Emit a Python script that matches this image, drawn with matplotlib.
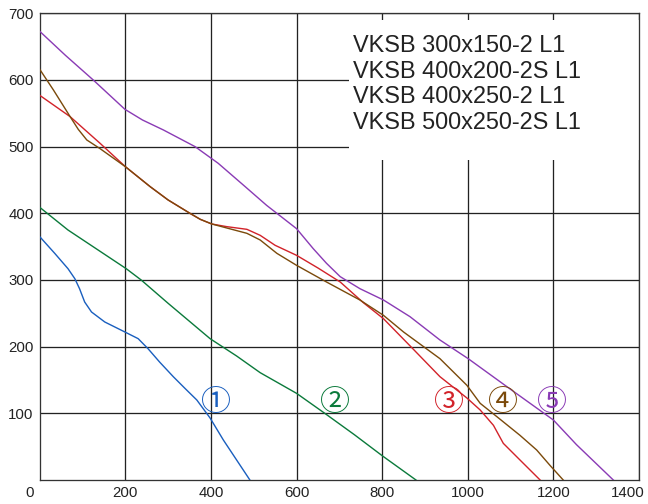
import matplotlib
matplotlib.use("Agg")
import matplotlib.pyplot as plt
from matplotlib.patches import Rectangle

plt.rcParams['font.family'] = ['Liberation Sans', 'DejaVu Sans']

# curve 1 - VKSB 300x150-2 L1
x1 = [0, 35, 66, 82, 93, 105, 121, 152, 199, 230, 253, 280, 312, 340, 367, 398, 429, 460, 491]
y1 = [365, 340, 317, 302, 287, 267, 252, 237, 222, 212, 197, 177, 155, 137, 120, 93, 60, 30, 0]

# curve 2
x2 = [0, 66, 202, 237, 300, 398, 460, 515, 600, 666, 735, 801, 879]
y2 = [409, 375, 317, 300, 265, 212, 186, 161, 130, 100, 68, 36, 0]

# curve 3
x3 = [0, 71, 141, 200, 258, 300, 351, 375, 402, 437, 484, 515, 550, 600, 650, 702, 756, 803,
      870, 935, 998, 1029, 1060, 1083, 1122, 1169]
y3 = [577, 545, 505, 470, 440, 420, 400, 391, 384, 380, 376, 367, 352, 337, 318, 297, 266, 242,
      198, 155, 123, 105, 82, 55, 30, 0]

# curve 4
x4 = [0, 32, 71, 90, 110, 141, 200, 258, 300, 351, 375, 402, 437, 484, 515, 554, 600, 670, 748,
      803, 850, 935, 998, 1029, 1068, 1122, 1161, 1192, 1223]
y4 = [616, 585, 545, 526, 510, 497, 470, 440, 420, 400, 391, 384, 378, 370, 360, 340, 322, 297, 270,
      247, 222, 182, 142, 115, 95, 67, 45, 22, 0]

# curve 5
x5 = [0, 60, 125, 199, 240, 289, 363, 417, 480, 530, 600, 639, 670, 702, 748, 803,
      865, 935, 1001, 1100, 1200, 1254, 1340]
y5 = [673, 637, 600, 556, 540, 525, 500, 475, 440, 412, 377, 347, 325, 305, 287, 270,
      245, 210, 182, 136, 90, 53, 0]

colors = ['#1a5fbf', '#0b7a3b', '#d2232a', '#7b4a0b', '#8a3bb5']
marks = ['①', '②', '③', '④', '⑤']
mark_x = [411, 690, 956, 1082, 1196]
mark_y = 116

x_ticks = [200, 400, 600, 800, 1000, 1200, 1400]
y_ticks = [100, 200, 300, 400, 500, 600, 700]

legend_lines = ['VKSB 300x150-2 L1', 'VKSB 400x200-2S L1',
                'VKSB 400x250-2 L1', 'VKSB 500x250-2S L1']

fig = plt.figure(figsize=(9, 7), dpi=72)
ax = fig.add_axes([0.0613, 0.0476, 0.9248, 0.926])

for xs, ys, c in zip([x1, x2, x3, x4, x5], [y1, y2, y3, y4, y5], colors):
    ax.plot(xs, ys, color=c, lw=1.4, zorder=3, solid_joinstyle='round')

for m, mx, c in zip(marks, mark_x, colors):
    ax.text(mx, mark_y, m, color=c, fontsize=30, ha='center', va='center',
            family=['Noto Sans CJK JP', 'DejaVu Sans'], zorder=4)

ax.set_xlim(0, 1400)
ax.set_ylim(0, 700)
ax.set_xticks(x_ticks)
ax.set_xticklabels([str(v) for v in x_ticks[:-1]] + [''])
ax.set_yticks(y_ticks)
ax.tick_params(length=0, labelsize=15, colors='#222222')
ax.tick_params(axis='x', pad=6)
ax.tick_params(axis='y', pad=6)
ax.annotate('0', xy=(0, 0), xytext=(-10, -6), textcoords='offset points',
            ha='center', va='top', fontsize=15, color='#222222', annotation_clip=False)
ax.annotate(str(x_ticks[-1]), xy=(x_ticks[-1], 0), xytext=(6, -6), textcoords='offset points',
            ha='right', va='top', fontsize=15, color='#222222', annotation_clip=False)

ax.set_axisbelow(True)
ax.grid(True, color='#222222', lw=1.3)
for s in ax.spines.values():
    s.set_color('#333333')
    s.set_linewidth(1.3)

ax.add_patch(Rectangle((0.516, 0.6857), 0.484, 0.30, transform=ax.transAxes,
                       facecolor='white', edgecolor='none', zorder=1.5))
ax.text(0.5228, 0.9535, '\n'.join(legend_lines), transform=ax.transAxes,
        ha='left', va='top', fontsize=23.5, linespacing=1.22, color='#222222', zorder=4)

fig.savefig('out.png', dpi=72)
